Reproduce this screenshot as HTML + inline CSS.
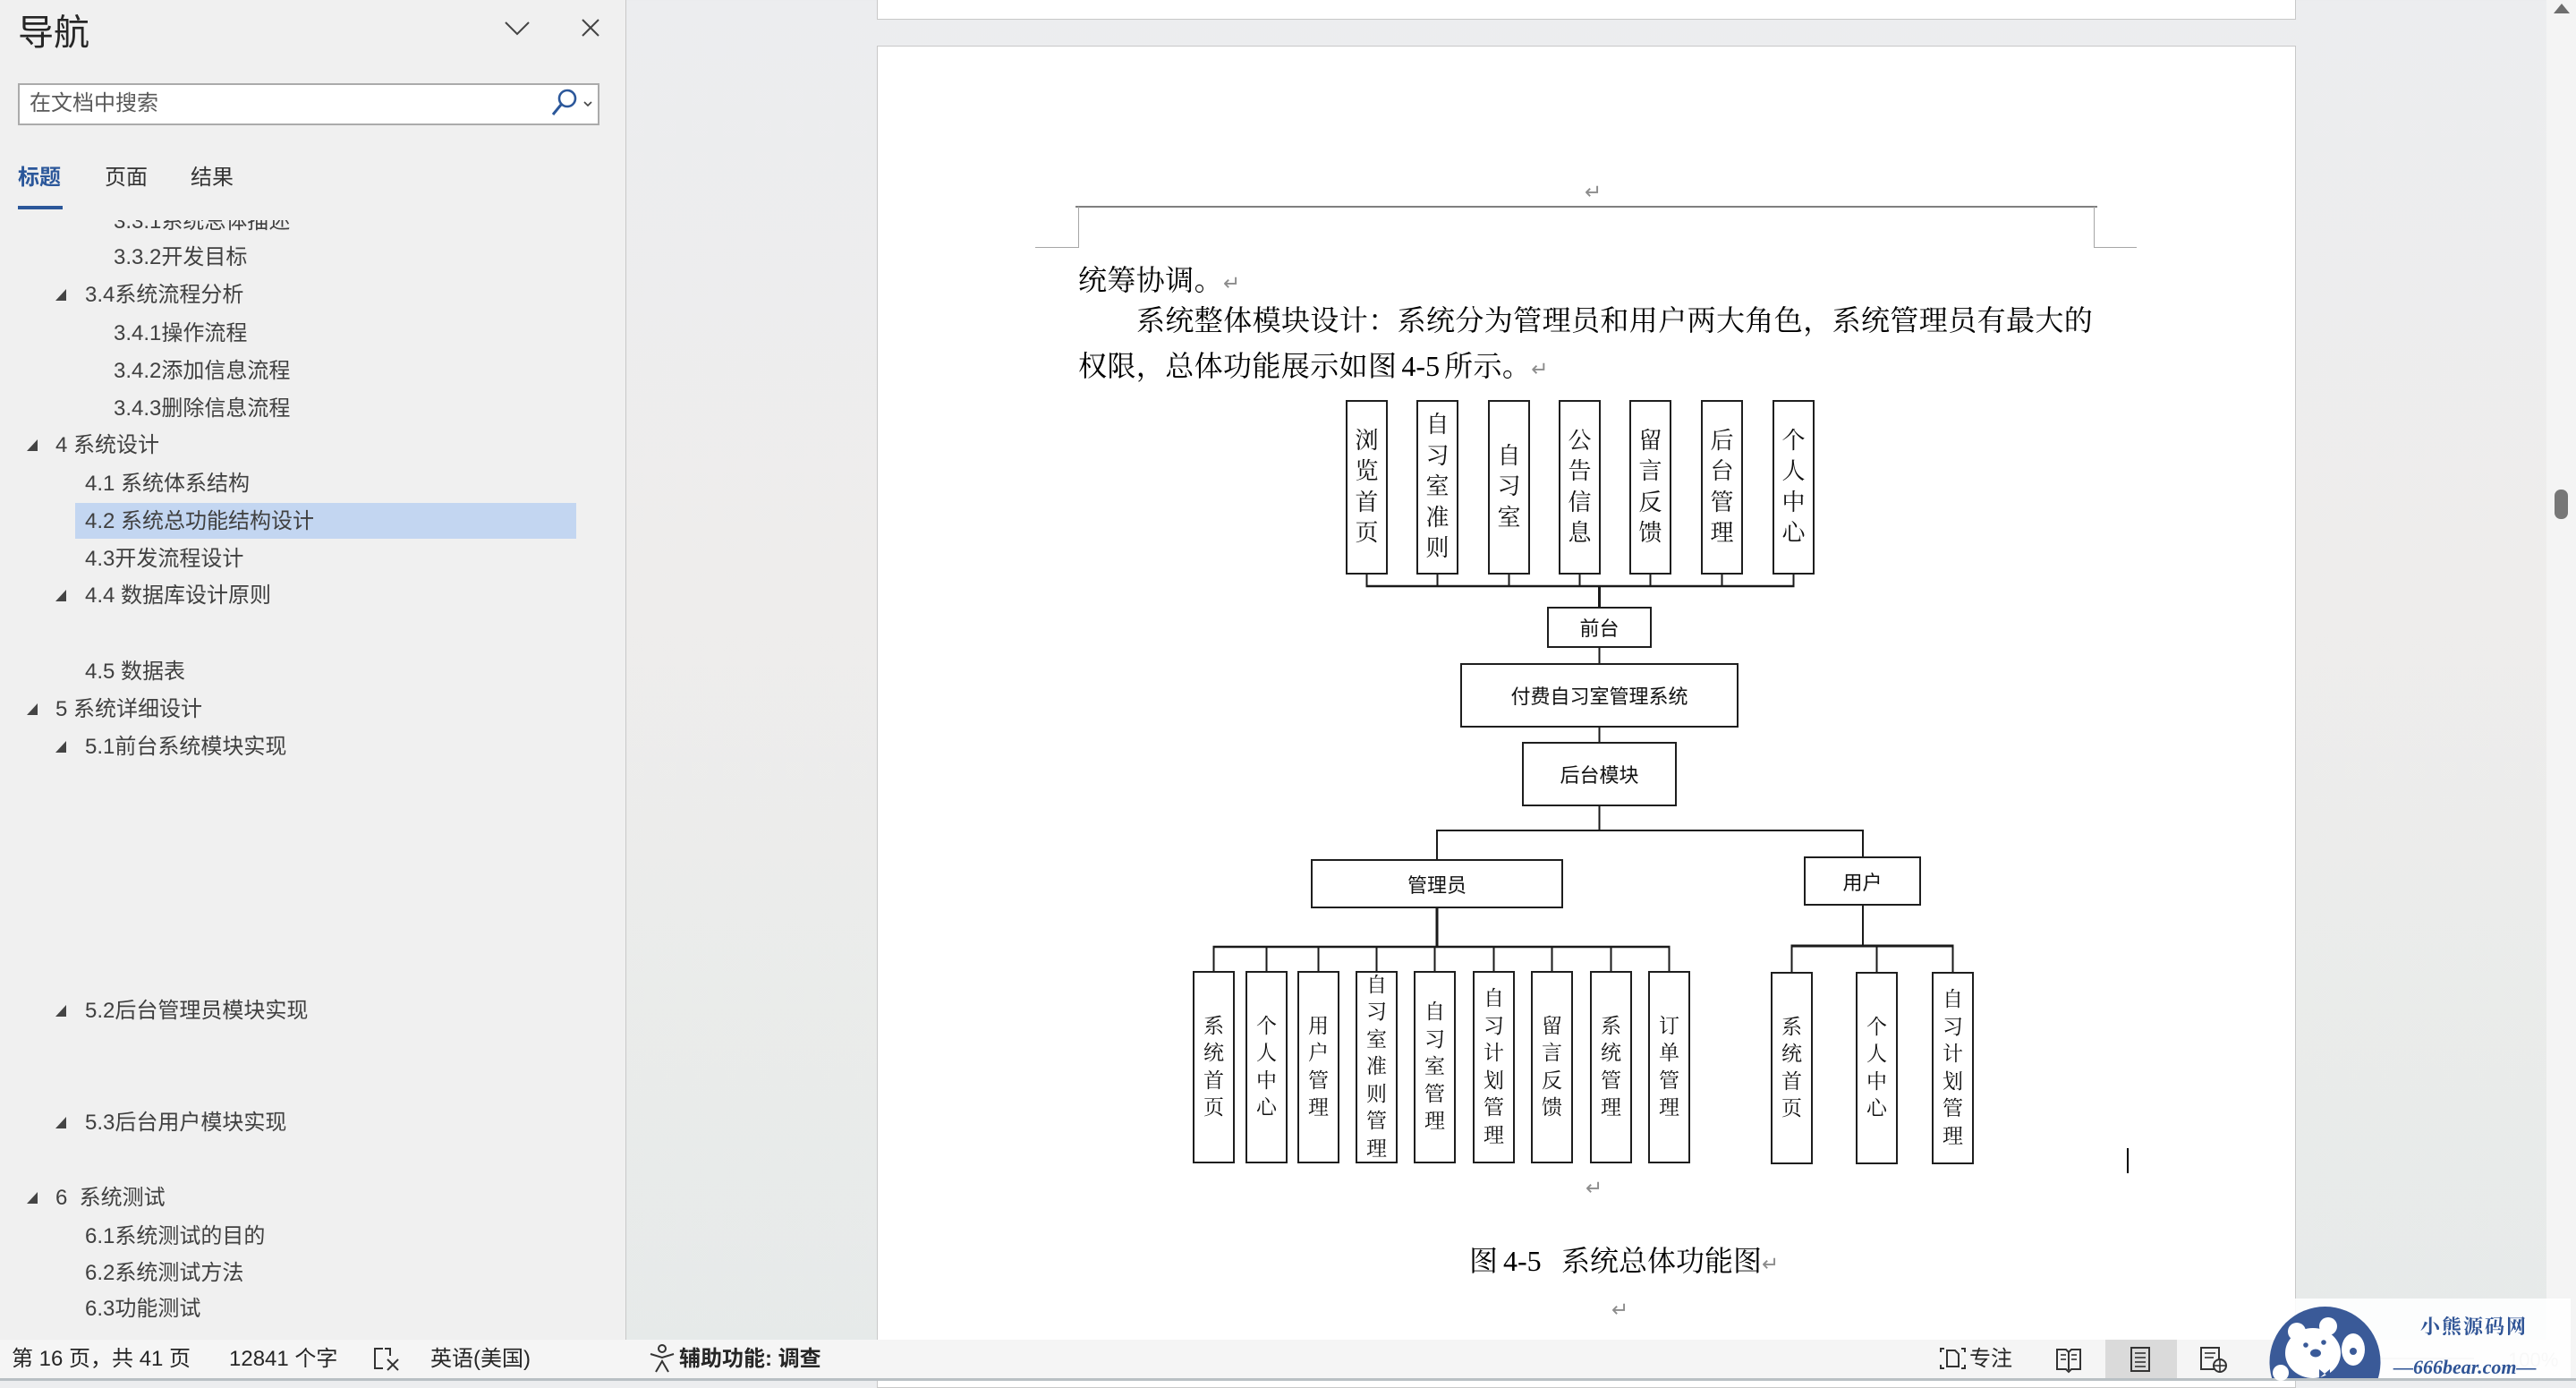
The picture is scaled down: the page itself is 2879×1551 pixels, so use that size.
<!DOCTYPE html>
<html><head><meta charset="utf-8">
<style>
*{margin:0;padding:0;box-sizing:border-box}
body{width:2879px;height:1543px;overflow:hidden;position:relative;background:linear-gradient(180deg,#ecedef 0%,#eeedec 45%,#e6eae9 100%);font-family:"Liberation Sans","Noto Sans CJK SC",sans-serif}
.a{position:absolute;white-space:nowrap}
#nav{position:absolute;left:0;top:0;width:700px;height:1497px;background:#f0f0f0;border-right:1px solid #c8c8c8}
.ti{position:absolute;font-size:24px;color:#404040;line-height:30px;height:30px;white-space:nowrap}
.tri{position:absolute;width:0;height:0;border-left:12px solid transparent;border-bottom:13px solid #444}
.page{position:absolute;background:#fff;border:1px solid #c8c8c8}
.bt{position:absolute;white-space:nowrap;font-family:"Liberation Serif","Noto Serif CJK SC",serif;font-size:32px;line-height:32px;color:#000}
.rm{font-family:"DejaVu Sans",sans-serif;font-size:23px;color:#8c8c8c}
.vb{position:absolute;display:flex;align-items:center;justify-content:center;text-align:center;font-family:"Liberation Serif","Noto Serif CJK SC",serif;border:2px solid #1e1e1e;background:#fff;color:#111}
.vb span{display:block}
.t1{width:47px;height:195px;top:447px;font-size:26px;line-height:34.5px}
.t2{width:47px;height:215px;top:1085px;font-size:23px;line-height:30.5px}
.t3{width:47px;height:215px;top:1086px;font-size:23px;line-height:30.5px}
.hb{position:absolute;display:flex;align-items:center;justify-content:center;font-family:"Liberation Sans","Noto Sans CJK SC",sans-serif;font-size:22px;border:2px solid #1e1e1e;background:#fff;color:#111}
.sb{position:absolute;top:1497px;height:43px;line-height:43px;font-size:24px;color:#262626;white-space:nowrap}
</style></head><body>

<!-- previous page bottom -->
<div class="page" style="left:980px;top:-2px;width:1586px;height:24px"></div>
<!-- current page -->
<div class="page" style="left:980px;top:51px;width:1586px;height:1500px"></div>

<!-- scrollbar -->
<div style="position:absolute;left:2846px;top:0;width:33px;height:1497px;background:#f4f4f4"></div>
<svg class="a" style="left:0;top:0" width="2879" height="1543">
<polygon points="2854,15 2863,4 2872,15" fill="#6e6e6e"/>
<rect x="2855" y="547" width="15" height="33" rx="7" fill="#777"/>
</svg>

<!-- nav panel -->
<div id="nav"></div>
<div class="a" style="left:20px;top:8px;font-size:40px;line-height:50px;color:#262626;font-family:'Noto Sans CJK SC',sans-serif">导航</div>
<svg class="a" style="left:0;top:0" width="700" height="250">
<polyline points="565,25 578,38 591,25" fill="none" stroke="#444" stroke-width="2"/>
<line x1="651" y1="22" x2="669" y2="40" stroke="#444" stroke-width="2"/>
<line x1="669" y1="22" x2="651" y2="40" stroke="#444" stroke-width="2"/>
</svg>
<div class="a" style="left:20px;top:93px;width:650px;height:47px;border:2px solid #ababab;background:#fff"></div>
<div class="a" style="left:33px;top:100px;font-size:24px;line-height:32px;color:#595959">在文档中搜索</div>
<svg class="a" style="left:0;top:0" width="700" height="250">
<circle cx="634" cy="110" r="9" fill="none" stroke="#2b579a" stroke-width="2.6"/>
<line x1="627" y1="117" x2="618" y2="128" stroke="#2b579a" stroke-width="3"/>
<polyline points="653,114 657,118 661,114" fill="none" stroke="#444" stroke-width="1.6"/>
</svg>
<div class="a" style="left:20px;top:183px;font-size:24px;line-height:32px;color:#2b579a;font-weight:bold">标题</div>
<div class="a" style="left:117px;top:183px;font-size:24px;line-height:32px;color:#333">页面</div>
<div class="a" style="left:213px;top:183px;font-size:24px;line-height:32px;color:#333">结果</div>
<div class="a" style="left:20px;top:230px;width:50px;height:4px;background:#2b579a"></div>

<!-- tree -->
<div class="a" style="left:0;top:246px;width:699px;height:1228px;overflow:hidden">
 <div class="a" style="left:0;top:-246px;width:699px;height:1500px">
  <div class="a" style="left:84px;top:562px;width:560px;height:40px;background:#c3d6f1"></div>
  <div class="ti" style="left:127px;top:233px">3.3.1系统总体描述</div>
  <div class="ti" style="left:127px;top:273px">3.3.2开发目标</div>
  <div class="tri" style="left:62px;top:323px"></div>
  <div class="ti" style="left:95px;top:315px">3.4系统流程分析</div>
  <div class="ti" style="left:127px;top:358px">3.4.1操作流程</div>
  <div class="ti" style="left:127px;top:400px">3.4.2添加信息流程</div>
  <div class="ti" style="left:127px;top:442px">3.4.3删除信息流程</div>
  <div class="tri" style="left:30px;top:491px"></div>
  <div class="ti" style="left:62px;top:483px">4 系统设计</div>
  <div class="ti" style="left:95px;top:526px">4.1 系统体系结构</div>
  <div class="ti" style="left:95px;top:568px">4.2 系统总功能结构设计</div>
  <div class="ti" style="left:95px;top:610px">4.3开发流程设计</div>
  <div class="tri" style="left:62px;top:659px"></div>
  <div class="ti" style="left:95px;top:651px">4.4 数据库设计原则</div>
  <div class="ti" style="left:95px;top:736px">4.5 数据表</div>
  <div class="tri" style="left:30px;top:786px"></div>
  <div class="ti" style="left:62px;top:778px">5 系统详细设计</div>
  <div class="tri" style="left:62px;top:828px"></div>
  <div class="ti" style="left:95px;top:820px">5.1前台系统模块实现</div>
  <div class="tri" style="left:62px;top:1123px"></div>
  <div class="ti" style="left:95px;top:1115px">5.2后台管理员模块实现</div>
  <div class="tri" style="left:62px;top:1248px"></div>
  <div class="ti" style="left:95px;top:1240px">5.3后台用户模块实现</div>
  <div class="tri" style="left:30px;top:1332px"></div>
  <div class="ti" style="left:62px;top:1324px">6&nbsp;&nbsp;系统测试</div>
  <div class="ti" style="left:95px;top:1367px">6.1系统测试的目的</div>
  <div class="ti" style="left:95px;top:1408px">6.2系统测试方法</div>
  <div class="ti" style="left:95px;top:1448px">6.3功能测试</div>
 </div>
</div>

<!-- header area -->
<div class="a rm" style="left:1771px;top:202px;line-height:26px">↵</div>
<svg class="a" style="left:0;top:0" width="2879" height="300">
<line x1="1202" y1="231" x2="2344" y2="231" stroke="#7f7f7f" stroke-width="2"/>
<polyline points="1157,276.5 1205.5,276.5 1205.5,231" fill="none" stroke="#a6a6a6" stroke-width="1"/>
<polyline points="2388,276.5 2340.5,276.5 2340.5,231" fill="none" stroke="#a6a6a6" stroke-width="1"/>
</svg>

<!-- body text -->
<div class="bt" style="left:1205px;top:297px;letter-spacing:0.4px">统筹协调。<span class="rm">↵</span></div>
<div class="bt" style="left:1270px;top:342px;letter-spacing:0.4px">系统整体模块设计：系统分为管理员和用户两大角色，系统管理员有最大的</div>
<div class="bt" style="left:1205px;top:393px;letter-spacing:0.4px">权限，总体功能展示如图<span style="font-family:'Liberation Serif',serif;margin:0 5px;letter-spacing:0">4-5</span>所示。<span class="rm">↵</span></div>

<!-- diagram lines -->
<svg class="a" style="left:0;top:0" width="2879" height="1543">
<g stroke="#1a1a1a" fill="none">
<g stroke-width="2">
<line x1="1527.5" y1="641" x2="1527.5" y2="655"/>
<line x1="1606.5" y1="641" x2="1606.5" y2="655"/>
<line x1="1686.5" y1="641" x2="1686.5" y2="655"/>
<line x1="1765.5" y1="641" x2="1765.5" y2="655"/>
<line x1="1844.5" y1="641" x2="1844.5" y2="655"/>
<line x1="1924.5" y1="641" x2="1924.5" y2="655"/>
<line x1="2004.5" y1="641" x2="2004.5" y2="655"/>
</g>
<line x1="1526.5" y1="655" x2="2005.5" y2="655" stroke-width="2.5"/>
<line x1="1787.5" y1="655" x2="1787.5" y2="679" stroke-width="3"/>
<line x1="1787.5" y1="723" x2="1787.5" y2="742" stroke-width="2"/>
<line x1="1787.5" y1="812" x2="1787.5" y2="830" stroke-width="2"/>
<line x1="1787.5" y1="900" x2="1787.5" y2="928" stroke-width="2"/>
<line x1="1605" y1="928" x2="2083" y2="928" stroke-width="2"/>
<line x1="1606" y1="928" x2="1606" y2="961" stroke-width="2"/>
<line x1="2082" y1="928" x2="2082" y2="958" stroke-width="2"/>
<line x1="1606" y1="1014" x2="1606" y2="1058" stroke-width="3"/>
<line x1="1355.5" y1="1058" x2="1866.5" y2="1058" stroke-width="2.5"/>
<g stroke-width="2">
<line x1="1356.5" y1="1058" x2="1356.5" y2="1086"/>
<line x1="1415.5" y1="1058" x2="1415.5" y2="1086"/>
<line x1="1473.5" y1="1058" x2="1473.5" y2="1086"/>
<line x1="1538.5" y1="1058" x2="1538.5" y2="1086"/>
<line x1="1603.5" y1="1058" x2="1603.5" y2="1086"/>
<line x1="1669.5" y1="1058" x2="1669.5" y2="1086"/>
<line x1="1734.5" y1="1058" x2="1734.5" y2="1086"/>
<line x1="1800.5" y1="1058" x2="1800.5" y2="1086"/>
<line x1="1865.5" y1="1058" x2="1865.5" y2="1086"/>
<line x1="2082" y1="1011" x2="2082" y2="1057"/>
</g>
<line x1="2001.5" y1="1057" x2="2183.5" y2="1057" stroke-width="3"/>
<g stroke-width="2">
<line x1="2002.5" y1="1057" x2="2002.5" y2="1087"/>
<line x1="2097.5" y1="1057" x2="2097.5" y2="1087"/>
<line x1="2182.5" y1="1057" x2="2182.5" y2="1087"/>
</g>
</g>
</svg>

<!-- top boxes -->
<div class="vb t1" style="left:1504px"><span>浏<br>览<br>首<br>页</span></div>
<div class="vb t1" style="left:1583px"><span>自<br>习<br>室<br>准<br>则</span></div>
<div class="vb t1" style="left:1663px"><span>自<br>习<br>室</span></div>
<div class="vb t1" style="left:1742px"><span>公<br>告<br>信<br>息</span></div>
<div class="vb t1" style="left:1821px"><span>留<br>言<br>反<br>馈</span></div>
<div class="vb t1" style="left:1901px"><span>后<br>台<br>管<br>理</span></div>
<div class="vb t1" style="left:1981px"><span>个<br>人<br>中<br>心</span></div>

<!-- horizontal boxes -->
<div class="hb" style="left:1729px;top:678px;width:117px;height:46px">前台</div>
<div class="hb" style="left:1632px;top:741px;width:311px;height:72px">付费自习室管理系统</div>
<div class="hb" style="left:1701px;top:829px;width:173px;height:72px">后台模块</div>
<div class="hb" style="left:1465px;top:960px;width:282px;height:55px">管理员</div>
<div class="hb" style="left:2016px;top:957px;width:131px;height:55px">用户</div>

<!-- admin children -->
<div class="vb t2" style="left:1333px"><span>系<br>统<br>首<br>页</span></div>
<div class="vb t2" style="left:1392px"><span>个<br>人<br>中<br>心</span></div>
<div class="vb t2" style="left:1450px"><span>用<br>户<br>管<br>理</span></div>
<div class="vb t2" style="left:1515px"><span>自<br>习<br>室<br>准<br>则<br>管<br>理</span></div>
<div class="vb t2" style="left:1580px"><span>自<br>习<br>室<br>管<br>理</span></div>
<div class="vb t2" style="left:1646px"><span>自<br>习<br>计<br>划<br>管<br>理</span></div>
<div class="vb t2" style="left:1711px"><span>留<br>言<br>反<br>馈</span></div>
<div class="vb t2" style="left:1777px"><span>系<br>统<br>管<br>理</span></div>
<div class="vb t2" style="left:1842px"><span>订<br>单<br>管<br>理</span></div>

<!-- user children -->
<div class="vb t3" style="left:1979px"><span>系<br>统<br>首<br>页</span></div>
<div class="vb t3" style="left:2074px"><span>个<br>人<br>中<br>心</span></div>
<div class="vb t3" style="left:2159px"><span>自<br>习<br>计<br>划<br>管<br>理</span></div>

<!-- under diagram -->
<div class="a rm" style="left:1772px;top:1315px;line-height:26px">↵</div>
<div class="bt" style="left:1642px;top:1393px">图</div>
<div class="bt" style="left:1680px;top:1393px;font-family:'Liberation Serif',serif">4-5</div>
<div class="bt" style="left:1745px;top:1393px">系统总体功能图<span class="rm">↵</span></div>
<div class="a rm" style="left:1801px;top:1451px;line-height:26px">↵</div>

<!-- text cursor -->
<div class="a" style="left:2377px;top:1283px;width:2px;height:28px;background:#000"></div>

<!-- status bar -->
<div class="a" style="left:0;top:1497px;width:2879px;height:43px;background:#f5f5f5"></div>
<div class="a" style="left:0;top:1540px;width:2879px;height:3px;background:#b9c0c4"></div>
<div class="a" style="left:2353px;top:1497px;width:80px;height:43px;background:#dadada"></div>
<div class="sb" style="left:13px">第 16 页，共 41 页</div>
<div class="sb" style="left:256px">12841 个字</div>
<div class="sb" style="left:481px">英语(美国)</div>
<div class="sb" style="left:759px;font-weight:bold">辅助功能: 调查</div>
<div class="sb" style="left:2201px">专注</div>
<svg class="a" style="left:0;top:1497px" width="2879" height="43">
<g fill="none" stroke="#333" stroke-width="2">
<!-- proofing icon -->
<polyline points="428,10 419,10 419,32 428,32"/>
<polyline points="430,10 436,10 436,18"/>
<line x1="433" y1="22" x2="445" y2="34"/><line x1="445" y1="22" x2="433" y2="34"/>
<!-- accessibility -->
<circle cx="740" cy="10" r="4"/>
<polyline points="727,16 740,20 753,16"/>
<polyline points="733,36 740,24 747,36"/>
<!-- focus -->
<polyline points="2169,14 2169,10 2173,10"/><polyline points="2192,10 2196,10 2196,14"/>
<polyline points="2169,28 2169,32 2173,32"/><polyline points="2192,32 2196,32 2196,28"/>
<path d="M2176 12 h9 l4 4 v14 h-13 z"/>
<!-- read mode book -->
<path d="M2299 11 h10 l3 3 l3 -3 h10 v22 h-10 l-3 3 l-3 -3 h-10 z"/>
<line x1="2312" y1="14" x2="2312" y2="34"/>
<!-- print layout -->
<rect x="2382" y="9" width="20" height="26"/>
<!-- web layout -->
<rect x="2460" y="9" width="20" height="24"/>
<circle cx="2481" cy="29" r="7" fill="#f5f5f5"/>
</g>
<g stroke="#333" stroke-width="1.6">
<line x1="2386" y1="15" x2="2398" y2="15"/><line x1="2386" y1="20" x2="2398" y2="20"/><line x1="2386" y1="25" x2="2398" y2="25"/><line x1="2386" y1="30" x2="2398" y2="30"/>
<line x1="2464" y1="15" x2="2476" y2="15"/><line x1="2464" y1="20" x2="2474" y2="20"/>
<line x1="2474" y1="29" x2="2488" y2="29"/><line x1="2481" y1="22" x2="2481" y2="36"/>
<line x1="2303" y1="17" x2="2309" y2="17"/><line x1="2303" y1="22" x2="2309" y2="22"/><line x1="2315" y1="17" x2="2321" y2="17"/><line x1="2315" y1="22" x2="2321" y2="22"/>
</g>
<line x1="2540" y1="21" x2="2765" y2="21" stroke="#c8c8c8" stroke-width="2"/>
<text x="2803" y="30" font-family="Liberation Sans" font-size="22" fill="#c4c4c4">100%</text>
</svg>

<!-- watermark logo -->
<div class="a" style="left:2565px;top:1451px;width:308px;height:89px;background:rgba(255,255,255,0.88)"></div>
<svg class="a" style="left:0;top:0" width="2879" height="1543">
<defs><clipPath id="cb"><rect x="2530" y="1450" width="140" height="90"/></clipPath></defs>
<circle cx="2598.5" cy="1522" r="62" fill="#3a5a98" clip-path="url(#cb)"/>
<circle cx="2567" cy="1488" r="10" fill="#fff"/>
<circle cx="2602" cy="1482" r="10" fill="#fff"/>
<ellipse cx="2585" cy="1512" rx="31" ry="28" fill="#fff"/>
<circle cx="2577" cy="1503" r="2.8" fill="#3a5a98"/>
<circle cx="2597" cy="1500" r="2.8" fill="#3a5a98"/>
<ellipse cx="2588" cy="1512" rx="6" ry="4.5" fill="#3a5a98"/>
<ellipse cx="2630" cy="1508" rx="13" ry="18" fill="#fff"/>
<circle cx="2630" cy="1510" r="4" fill="#3a5a98"/>
<circle cx="2549" cy="1534" r="9" fill="#fff"/>
<polygon points="2592,1530 2598,1535 2592,1540" fill="#3a5a98"/>
<polygon points="2604,1530 2598,1535 2604,1540" fill="#3a5a98"/>
<text x="2705" y="1490" font-family="Noto Serif CJK SC,serif" font-weight="bold" font-size="22" letter-spacing="2" fill="#2f5496">小熊源码网</text>
<text x="2675" y="1535" font-family="Liberation Serif,serif" font-style="italic" font-weight="bold" font-size="22" fill="#2f5496">—666bear.com—</text>
</svg>

</body></html>
